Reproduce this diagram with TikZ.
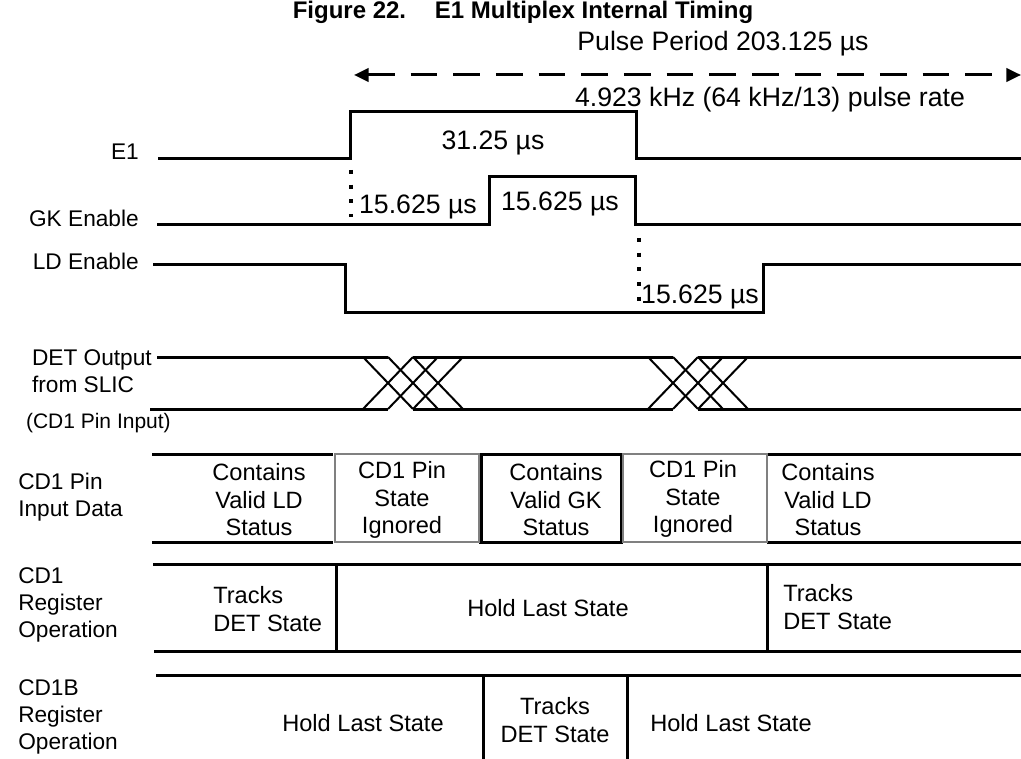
\documentclass[tikz,border=0pt]{standalone}
\usepackage{fontspec}
\setmainfont{Liberation Sans}
\usetikzlibrary{arrows,arrows.meta,positioning}

\tikzset{
  sig/.style={line width=2.25pt},
  xline/.style={line width=1.5pt},
  dotline/.style={line width=2.5pt, dash pattern=on 3pt off 8pt},
  ignbox/.style={draw=black!50, line width=2pt},
  tlab/.style={font=\fontsize{20}{24}\selectfont, inner sep=0pt},
  boxtxt/.style={font=\fontsize{17.7}{20.6}\selectfont, align=center, inner sep=0pt},
  rowlab/.style={font=\fontsize{17}{20.5}\selectfont, align=left, inner sep=0pt, anchor=west},
}

\begin{document}
\begin{tikzpicture}[x=0.75pt, y=-0.75pt] % {{{
    \useasboundingbox (0,0) rectangle (1021,759);
    \node[font=\bfseries\fontsize{18}{22}\selectfont, inner sep=0pt] (title) at (523,12)
      {Figure 22.\hspace{1.2em}E1 Multiplex Internal Timing};
    % period arrow {{{
    \node[tlab] (period) at (723,44) {Pulse Period 203.125 µs};
    \node[tlab] (rate) at (770,100) {4.923 kHz (64 kHz/13) pulse rate};
    \coordinate (pl) at (354,75);
    \coordinate (pr) at (1021,75);
    \draw[sig, dash pattern=on 20pt off 12pt, {Triangle[length=11pt,width=10pt]}-{Triangle[length=11pt,width=10pt]}] (pl) -- (pr);
    % }}}
    % E1, GK, LD {{{
    \node[rowlab, anchor=east] (lE1) at (139,152) {E1};
    \node[rowlab, anchor=east] (lGK) at (139,218) {GK Enable};
    \node[rowlab, anchor=east] (lLD) at (139,261) {LD Enable};
    \draw[sig] (158,159) -- (350,159) -- (350,112) -- (636,112) -- (636,159) -- (1021,159);
    \draw[sig] (157,225) -- (489,225) -- (489,177) -- (635,177) -- (635,225) -- (1021,225);
    \draw[sig] (153,265) -- (345,265) -- (345,313) -- (763,313) -- (763,265) -- (1021,265);
    \draw[dotline] (351,170) -- (351,217);
    \draw[dotline] (639,238) -- (639,307);
    \node[tlab] (tE1) at (493,143) {31.25 µs};
    \node[tlab] (tGKa) at (418,207) {15.625 µs};
    \node[tlab] (tGKb) at (560,204) {15.625 µs};
    \node[tlab] (tLD) at (700,297) {15.625 µs};
    % }}}
    % DET output {{{
    \node[rowlab, anchor=east] (lDET) at (152,371) {DET Output\\from SLIC};
    \node[rowlab, anchor=east, font=\fontsize{15.75}{18}\selectfont] (lCDin) at (171,423) {(CD1 Pin Input)};
    \draw[sig] (157,357) -- (388,357) (413,357) -- (673,357) (698,357) -- (1021,357);
    \draw[sig] (150,409) -- (388,409) (413,409) -- (673,409) (698,409) -- (1021,409);
    \foreach \c in {363,648} {
      \foreach \d in {0,25,50} {
        \draw[xline] (\c+\d,357) -- (\c+\d+50,409);
        \draw[xline] (\c+\d,409) -- (\c+\d+50,357);
      }
    }
    % }}}
    % CD1 pin input data {{{
    \node[rowlab] (lPin) at (18,497) {CD1 Pin\\Input Data};
    \foreach \y in {454,542} {
      \draw[sig] (152,\y) -- (333,\y) (479,\y) -- (623,\y) (767,\y) -- (1021,\y);
    }
    \draw[sig] (481,454) -- (481,542) (621,454) -- (621,542);
    \draw[ignbox] (335,454) rectangle (479,542);
    \draw[ignbox] (623,454) rectangle (767,542);
    \node[boxtxt] (pinA) at (259,500) {Contains\\Valid LD\\Status};
    \node[boxtxt] (pinB) at (402,500) {CD1 Pin\\State\\Ignored};
    \node[boxtxt] (pinC) at (556,500) {Contains\\Valid GK\\Status};
    \node[boxtxt] (pinD) at (693,499) {CD1 Pin\\State\\Ignored};
    \node[boxtxt] (pinE) at (828,500) {Contains\\Valid LD\\Status};
    % }}}
    % CD1 register {{{
    \node[rowlab] (lReg) at (18,605) {CD1\\Register\\Operation};
    \draw[sig] (153,564) -- (1021,564);
    \draw[sig] (154,651) -- (1021,651);
    \foreach \x in {336,767} \draw[sig] (\x,564) -- (\x,651);
    \node[boxtxt, align=left, anchor=west] (regA) at (213,609) {Tracks\\DET State};
    \node[boxtxt] (regB) at (548,608) {Hold Last State};
    \node[boxtxt, align=left, anchor=west] (regC) at (783,607) {Tracks\\DET State};
    % }}}
    % CD1B register {{{
    \node[rowlab] (lRegB) at (18,717) {CD1B\\Register\\Operation};
    \draw[sig] (156,675) -- (1021,675);
    \foreach \x in {483,627} \draw[sig] (\x,675) -- (\x,759);
    \node[boxtxt] (regbA) at (363,723) {Hold Last State};
    \node[boxtxt] (regbB) at (555,720) {Tracks\\DET State};
    \node[boxtxt] (regbC) at (731,723) {Hold Last State};
    % }}}
\end{tikzpicture} % }}}
\end{document}
